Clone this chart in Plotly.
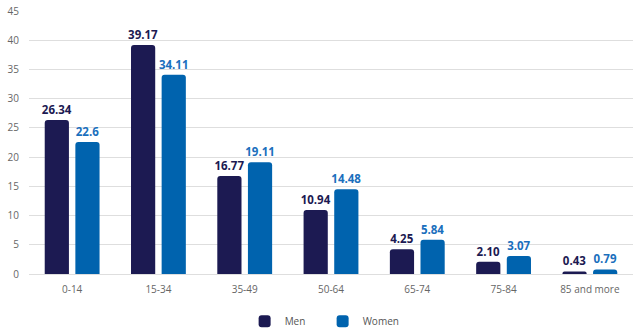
import plotly.graph_objects as go

# Age groups and shares (%) by sex
age_groups = ["0-14", "15-34", "35-49", "50-64", "65-74", "75-84", "85 and more"]
men = [26.34, 39.17, 16.77, 10.94, 4.25, 2.10, 0.43]
women = [22.6, 34.11, 19.11, 14.48, 5.84, 3.07, 0.79]
men_labels = ["26.34", "39.17", "16.77", "10.94", "4.25", "2.10", "0.43"]
women_labels = ["22.6", "34.11", "19.11", "14.48", "5.84", "3.07", "0.79"]
y_ticks = [0, 5, 10, 15, 20, 25, 30, 35, 40, 45]

MEN_COLOR = "#1c1a52"
WOMEN_COLOR = "#0063ae"
FONT = "Open Sans"

fig = go.Figure()
fig.add_trace(go.Bar(
    name="Men", x=age_groups, y=men, text=men_labels,
    textposition="outside", cliponaxis=False, constraintext="none",
    marker=dict(color=MEN_COLOR, line=dict(width=0), cornerradius=3),
    textfont=dict(family=FONT, size=11.5, color=MEN_COLOR, weight="bold"),
))
fig.add_trace(go.Bar(
    name="Women", x=age_groups, y=women, text=women_labels,
    textposition="outside", cliponaxis=False, constraintext="none",
    marker=dict(color=WOMEN_COLOR, line=dict(width=0), cornerradius=3),
    textfont=dict(family=FONT, size=11.5, color="#1a6fbd", weight="bold"),
))

fig.update_layout(
    width=634, height=329,
    margin=dict(l=29, r=1, t=11, b=55, autoexpand=False),
    paper_bgcolor="white", plot_bgcolor="white",
    barmode="group", bargap=0.29, bargroupgap=0.21,
    font=dict(family=FONT, size=10, color="#666666"),
    showlegend=True,
    legend=dict(
        orientation="h", x=0.357, xanchor="left", y=-0.18, yanchor="middle",
        font=dict(family=FONT, size=10, color="#555555"),
        itemwidth=30, traceorder="normal", entrywidth=33,
    ),
    xaxis=dict(
        showgrid=False, showline=False, ticks="", ticklabelstandoff=8,
        tickfont=dict(family=FONT, size=10, color="#666666"),
    ),
    yaxis=dict(
        range=[0, 45], tickvals=y_ticks, showgrid=True,
        gridcolor="#dedede", gridwidth=1, zeroline=True,
        zerolinecolor="#dedede", zerolinewidth=1,
        showline=False, ticks="", ticklabelstandoff=9,
        tickfont=dict(family=FONT, size=10, color="#666666"),
    ),
)

fig.write_html("out.html")
